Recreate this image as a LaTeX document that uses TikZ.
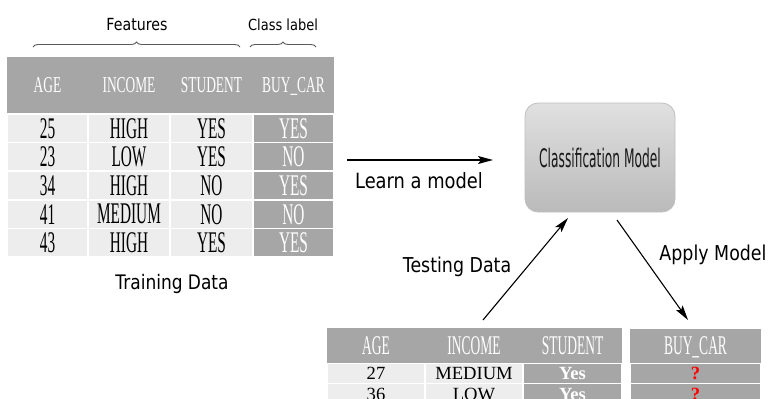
\documentclass[tikz,border=0pt]{standalone}
\usepackage{fontspec}
\setmainfont{Liberation Serif}
\newfontfamily\trhfont[FakeStretch=0.59]{Liberation Serif}
\newfontfamily\trrfont[FakeStretch=0.51]{Liberation Serif}
\newfontfamily\tehfont[FakeStretch=0.5]{Liberation Serif}
\newfontfamily\sfvfont[FakeStretch=0.85]{DejaVu Sans}
\newfontfamily\sfcfont[FakeStretch=0.48]{DejaVu Sans}
\usetikzlibrary{decorations.pathreplacing,arrows.meta}
\definecolor{hdr}{RGB}{166,166,166}
\definecolor{lite}{RGB}{237,237,237}
\definecolor{bracec}{RGB}{90,90,90}
\begin{document}
\begin{tikzpicture}[x=1pt,y=-1pt,
  base/.style={inner sep=0pt, outer sep=0pt, text depth=0pt},
  trhead/.style={base, fill=hdr, minimum height=56, text=white, font=\trhfont\fontsize{22.7}{24}\selectfont},
  trrow/.style={base, fill=lite, draw=white, line width=1.6pt, minimum height=28.6, text=black, font=\trrfont\fontsize{30}{32}\selectfont},
  trcls/.style={trrow, fill=hdr, text=white},
  tehead/.style={base, fill=hdr, minimum height=35, text=white, font=\tehfont\fontsize{27}{29}\selectfont},
  terow/.style={base, fill=lite, draw=white, line width=1.4pt, minimum height=20.5, text=black, font=\fontsize{18.6}{20}\selectfont},
  tedark/.style={terow, fill=hdr, text=white, font=\bfseries\fontsize{18.6}{20}\selectfont},
  teq/.style={terow, fill=hdr, text=red, font=\bfseries\fontsize{18.6}{20}\selectfont},
  lbl/.style={inner sep=0pt, anchor=base, font=\sfvfont\fontsize{#1}{#1}\selectfont},
  conn/.style={-{Stealth[length=15pt,width=8pt,inset=3pt]}, line width=1.1pt, black},
  brc/.style={decorate, decoration={brace, amplitude=5pt}, draw=bracec, line width=0.9pt}
]
\useasboundingbox (0,0) rectangle (769,399);

% training table header
\node[trhead, minimum width=81] (h1) at (47.5,85) {AGE};
\node[trhead, minimum width=82] (h2) at (129,85) {INCOME};
\node[trhead, minimum width=83] (h3) at (211.5,85) {STUDENT};
\node[trhead, minimum width=81] (h4) at (293.5,85) {BUY\_CAR};

% training rows
\foreach \a/\b/\c/\d [count=\i] in {25/HIGH/YES/YES, 23/LOW/YES/NO, 34/HIGH/NO/YES, 41/MEDIUM/NO/NO, 43/HIGH/YES/YES}{
  \pgfmathsetmacro\yy{114+(\i-0.5)*28.6}
  \node[trrow, minimum width=81] (ra\i) at (47.5,\yy) {\a};
  \node[trrow, minimum width=82] (rb\i) at (129,\yy) {\b};
  \node[trrow, minimum width=83] (rc\i) at (211.5,\yy) {\c};
  \node[trcls, minimum width=81] (rd\i) at (293.5,\yy) {\d};
}

% braces and labels
\coordinate (fb1) at (33,47);
\coordinate (fb2) at (240,47);
\coordinate (cb1) at (250,47);
\coordinate (cb2) at (316,47);
\draw[brc] (fb1) -- (fb2);
\draw[brc] (cb1) -- (cb2);
\node[lbl=16.7] (features) at (137,30) {Features};
\node[lbl=15.3] (classlabel) at (283,30) {Class label};
\node[lbl=20] (trainlbl) at (172,289) {Training Data};

% model box
\node[inner sep=0pt, minimum width=150, minimum height=109, rounded corners=13pt,
  top color=black!12, bottom color=black!27, draw=black!25, line width=0.8pt,
  font=\sfcfont\fontsize{25.5}{27}\selectfont, text=black!90] (model) at (600,157.5) {Classification Model};

% arrows
\coordinate (l1) at (347,160);
\coordinate (l2) at (493,160);
\coordinate (t1) at (483,320);
\coordinate (t2) at (568,218);
\coordinate (a1) at (617,220);
\coordinate (a2) at (688,320);
\draw[conn] (l1) -- (l2);
\draw[conn] (t1) -- (t2);
\draw[conn] (a1) -- (a2);
\node[lbl=21] (learnlbl) at (419,188) {Learn a model};
\node[lbl=20.5] (testlbl) at (457,272) {Testing Data};
\node[lbl=20.5] (applylbl) at (713,260) {Apply Model};

% testing table
\node[tehead, minimum width=98] (th1) at (376,345.5) {AGE};
\node[tehead, minimum width=98] (th2) at (474,345.5) {INCOME};
\node[tehead, minimum width=99] (th3) at (572.5,345.5) {STUDENT};
\node[tehead, minimum width=131, minimum height=34] (th4) at (695.5,346) {BUY\_CAR};

\node[terow, minimum width=98] (ta1) at (376,373.5) {27};
\node[terow, minimum width=98] (tb1) at (474,373.5) {MEDIUM};
\node[tedark, minimum width=99] (tc1) at (572.5,373.5) {Yes};
\node[teq, minimum width=131] (td1) at (695.5,373.5) {?};
\node[terow, minimum width=98] (ta2) at (376,394) {36};
\node[terow, minimum width=98] (tb2) at (474,394) {LOW};
\node[tedark, minimum width=99] (tc2) at (572.5,394) {Yes};
\node[teq, minimum width=131] (td2) at (695.5,394) {?};
\end{tikzpicture}
\end{document}
